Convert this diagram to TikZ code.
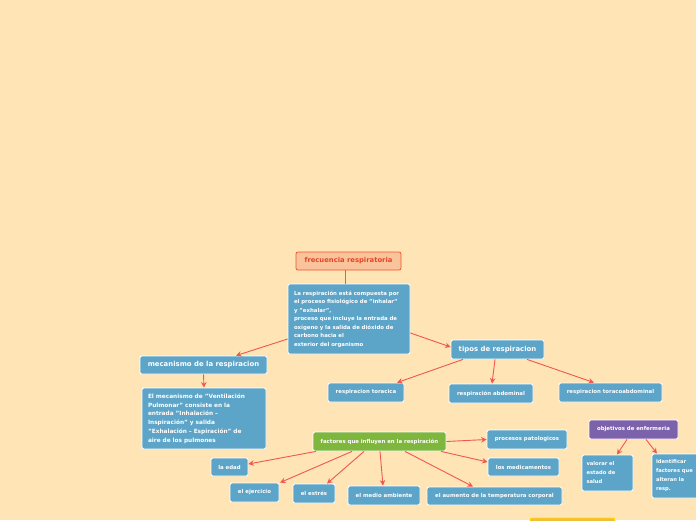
\documentclass[tikz,border=0pt]{standalone}
\usepackage{fontspec}
\setmainfont{DejaVu Sans}
\usetikzlibrary{arrows.meta}
\definecolor{bgc}{RGB}{255,228,182}
\definecolor{bluebox}{RGB}{92,164,200}
\definecolor{greenbox}{RGB}{126,182,62}
\definecolor{purplebox}{RGB}{124,98,170}
\definecolor{salmonfill}{RGB}{249,196,155}
\definecolor{salmonline}{RGB}{240,84,50}
\definecolor{salmontext}{RGB}{230,68,36}
\definecolor{arrowc}{RGB}{240,88,78}
\definecolor{goldfill}{RGB}{240,190,60}
\definecolor{goldline}{RGB}{255,222,0}
\tikzset{
  box/.style={rectangle, rounded corners=2pt, draw=white, line width=0.8pt, fill=bluebox,
    text=white, font=\bfseries\fontsize{5.4}{6}\selectfont, inner sep=1pt, align=center},
  bigbox/.style={box, font=\bfseries\fontsize{6.9}{8}\selectfont},
  para/.style={box, align=left, anchor=center},
  conn/.style={draw=arrowc, line width=0.9pt, -{Stealth[length=5.5pt,width=5.5pt]}},
}
\begin{document}
\begin{tikzpicture}[x=1pt,y=-1pt]
\useasboundingbox (0,0) rectangle (696,520);
\clip (0,0) rectangle (696,520);
\fill[bgc] (0,0) rectangle (696,520);

\node[rectangle, rounded corners=2pt, draw=salmonline, line width=0.8pt, fill=salmonfill,
  text=salmontext, font=\bfseries\fontsize{6.8}{7}\selectfont,
  minimum width=105pt, minimum height=18pt, inner sep=1pt] (frec) at (348.5,261) {frecuencia respiratoria};

\node[para, minimum width=122pt, minimum height=70pt, text width=110pt,
  font=\bfseries\fontsize{5.4}{8.5}\selectfont] (main) at (349,319)
  {La respiración está compuesta por\\el proceso fisiológico de "inhalar"\\y "exhalar",\\proceso que incluye la entrada de\\oxígeno y la salida de dióxido de\\carbono hacia el\\exterior del organismo};

\node[bigbox, minimum width=127pt, minimum height=18pt] (mec) at (203.5,365) {mecanismo de la respiracion};

\node[para, minimum width=124pt, minimum height=61pt, text width=112pt,
  font=\bfseries\fontsize{5.8}{8.8}\selectfont] (elmec) at (204,418.5)
  {El mecanismo de "Ventilación\\Pulmonar" consiste en la\\entrada "Inhalación –\\Inspiración" y salida\\"Exhalación – Espiración" de\\aire de los pulmones};

\node[bigbox, minimum width=93pt, minimum height=19pt] (tipos) at (497.5,349.5) {tipos de respiracion};
\node[box, minimum width=76pt, minimum height=19pt] (tor) at (366,392.5) {respiracion toracica};
\node[box, minimum width=84pt, minimum height=19pt] (abd) at (491,393.5) {respiración abdominal};
\node[box, minimum width=103pt, minimum height=19pt] (tab) at (610.5,392.5) {respiracion toracoabdominal};

\node[box, fill=greenbox, minimum width=133pt, minimum height=19pt] (fac) at (379.5,441.5) {factores que influyen en la respiración};
\node[box, minimum width=80pt, minimum height=19pt] (pro) at (527,439.5) {procesos patologicos};
\node[box, minimum width=71pt, minimum height=18pt] (med) at (523.5,467) {los medicamentos};
\node[box, minimum width=135pt, minimum height=18pt] (aum) at (494.5,496) {el aumento de la temperatura corporal};
\node[box, minimum width=37pt, minimum height=18pt] (edad) at (229.5,467) {la edad};
\node[box, minimum width=49pt, minimum height=19pt] (eje) at (254.5,492.5) {el ejercicio};
\node[box, minimum width=42pt, minimum height=19pt] (est) at (314,493.5) {el estrés};
\node[box, minimum width=72pt, minimum height=19pt] (amb) at (384,495.5) {el medio ambiente};

\node[box, fill=purplebox, minimum width=89pt, minimum height=19pt] (obj) at (633.5,429.5) {objetivos de enfermeria};
\node[para, minimum width=51pt, minimum height=36pt, text width=42pt,
  font=\bfseries\fontsize{5.2}{9}\selectfont] (val) at (607.5,473) {valorar el\\estado de\\salud};
\node[para, minimum width=50pt, minimum height=44pt, text width=42pt,
  font=\bfseries\fontsize{5.2}{9}\selectfont] (ide) at (677,476) {Identificar\\factores que\\alteran la\\resp.};

\node[rectangle, rounded corners=2pt, draw=goldline, line width=0.8pt, fill=goldfill,
  minimum width=85pt, minimum height=22pt] (gold) at (572.5,529) {};

% connectors
\draw[draw=arrowc, line width=0.9pt] (frec.south -| 345,0) -- (main.north -| 345,0);
\draw[conn] (main.west |- 0,339) -- (mec.north -| 236,0);
\draw[conn] (main.east |- 0,333) -- (tipos.west |- 0,347);
\draw[conn] (mec.south) -- (elmec.north);
\draw[conn] (tipos.south -| 463,0) -- (tor.north -| 397,0);
\draw[conn] (tipos.south -| 495,0) -- (abd.north -| 492,0);
\draw[conn] (tipos.south -| 527,0) -- (tab.north -| 594,0);
\draw[conn] (fac.east) -- (pro.west);
\draw[conn] (fac.south -| 441,0) -- (med.west |- 0,462);
\draw[conn] (fac.south -| 405,0) -- (aum.north -| 473,0);
\draw[conn] (fac.south -| 316,0) -- (edad.east |- 0,464);
\draw[conn] (fac.south -| 352,0) -- (eje.north -| 280,0);
\draw[conn] (fac.south -| 364,0) -- (est.north -| 327,0);
\draw[conn] (fac.south -| 380,0) -- (amb.north -| 383,0);
\draw[conn] (obj.south -| 627,0) -- (val.north -| 617,0);
\draw[conn] (obj.south -| 646,0) -- (ide.north -| 657,0);
\end{tikzpicture}
\end{document}
